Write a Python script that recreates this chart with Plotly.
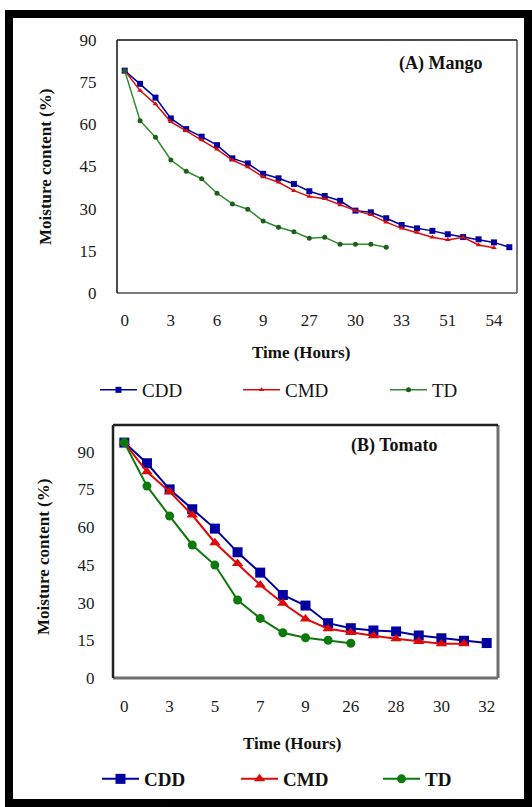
import plotly.graph_objects as go

W, H = 532, 807

# ---------------- data ----------------
mango_time = ["0", "1", "2", "3", "4", "5", "6", "7", "8", "9", "10", "11", "27",
              "28", "29", "30", "31", "32", "33", "34", "50", "51", "52", "53", "54", "55"]
mango_ticks = ["0", "3", "6", "9", "27", "30", "33", "51", "54"]
mango_cdd = [79.1, 74.4, 69.5, 62.1, 58.3, 55.6, 52.6, 47.9, 46.1, 42.4, 40.8, 38.8, 36.2,
             34.5, 32.8, 29.3, 28.7, 26.6, 24.2, 23.0, 22.1, 20.9, 19.9, 19.1, 18.0, 16.3]
mango_cmd = [79.1, 72.0, 67.2, 60.9, 57.7, 54.4, 51.1, 47.3, 44.8, 41.3, 39.4, 36.4, 34.3,
             33.5, 31.3, 29.3, 27.8, 25.2, 23.0, 21.5, 19.8, 18.9, 19.8, 17.1, 16.1]
mango_td = [79.1, 61.3, 55.4, 47.3, 43.3, 40.6, 35.5, 31.7, 29.8, 25.6, 23.4, 21.8,
            19.5, 19.8, 17.3, 17.3, 17.3, 16.3]

tomato_time = ["0", "2", "3", "4", "5", "6", "7", "8", "9", "25", "26", "27", "28",
               "29", "30", "31", "32"]
tomato_ticks = ["0", "3", "5", "7", "9", "26", "28", "30", "32"]
tomato_cdd = [93.6, 85.4, 75.0, 67.1, 59.4, 50.0, 41.9, 33.0, 28.8, 21.8, 19.8, 18.9,
              18.5, 16.9, 15.8, 14.8, 13.9]
tomato_cmd = [93.6, 82.0, 74.1, 64.8, 53.8, 45.5, 37.0, 29.7, 23.5, 19.6, 18.1, 16.8,
              15.6, 14.5, 13.6, 13.6]
tomato_td = [93.6, 76.3, 64.4, 52.9, 44.9, 31.0, 23.7, 18.0, 16.0, 15.0, 13.8]

y_ticks = [0, 15, 30, 45, 60, 75, 90]

# ---------------- styles ----------------
FONT = "Liberation Serif, Times New Roman, serif"
BLUE = "#0000a0"
RED = "#dd0a0a"
GREEN_A = "#2e8b2e"
GREEN_B = "#0b7a0b"


def px(x):
    return x / W


def py(y):
    return 1 - y / H


# plot areas in pixels (left, top, right, bottom)
A = (117, 40, 517, 293)
B = (113, 425, 498, 678)

fig = go.Figure()

# Panel A traces
fig.add_trace(go.Scatter(x=mango_time[:len(mango_cdd)], y=mango_cdd, name="CDD",
                         mode="lines+markers", xaxis="x", yaxis="y", legend="legend",
                         line=dict(color=BLUE, width=1.5),
                         marker=dict(symbol="square", size=6, color=BLUE)))
fig.add_trace(go.Scatter(x=mango_time[:len(mango_cmd)], y=mango_cmd, name="CMD",
                         mode="lines+markers", xaxis="x", yaxis="y", legend="legend2",
                         line=dict(color=RED, width=1.5),
                         marker=dict(symbol="triangle-up", size=5, color=RED)))
fig.add_trace(go.Scatter(x=mango_time[:len(mango_td)], y=mango_td, name="TD",
                         mode="lines+markers", xaxis="x", yaxis="y", legend="legend3",
                         line=dict(color=GREEN_A, width=1.5),
                         marker=dict(symbol="circle", size=5, color="#1d5e1d")))

# Panel B traces
fig.add_trace(go.Scatter(x=tomato_time[:len(tomato_cdd)], y=tomato_cdd, name="CDD",
                         mode="lines+markers", xaxis="x2", yaxis="y2", legend="legend4",
                         line=dict(color=BLUE, width=2),
                         marker=dict(symbol="square", size=10, color=BLUE)))
fig.add_trace(go.Scatter(x=tomato_time[:len(tomato_cmd)], y=tomato_cmd, name="CMD",
                         mode="lines+markers", xaxis="x2", yaxis="y2", legend="legend5",
                         line=dict(color=RED, width=2),
                         marker=dict(symbol="triangle-up", size=10, color=RED)))
fig.add_trace(go.Scatter(x=tomato_time[:len(tomato_td)], y=tomato_td, name="TD",
                         mode="lines+markers", xaxis="x2", yaxis="y2", legend="legend6",
                         line=dict(color=GREEN_B, width=2),
                         marker=dict(symbol="circle", size=9, color=GREEN_B)))

tickfont = dict(family=FONT, size=17, color="#1a1a1a")

common_x = dict(type="category", showgrid=False, zeroline=False, showline=False,
                ticks="outside", tickcolor="rgba(0,0,0,0)", automargin=False,
                tickfont=tickfont, fixedrange=True)
common_y = dict(showgrid=False, zeroline=False, showline=False, ticks="outside",
                tickcolor="rgba(0,0,0,0)", automargin=False, tickfont=tickfont,
                tickvals=y_ticks, fixedrange=True)


def leg(x, y, bold):
    return dict(orientation="h", x=px(x), y=py(y), xanchor="left", yanchor="middle",
                font=dict(family=FONT, size=19, color="#111",
                          weight="bold" if bold else "normal"),
                itemwidth=37, bgcolor="rgba(0,0,0,0)", borderwidth=0)


fig.update_layout(
    width=W, height=H,
    margin=dict(l=0, r=0, t=0, b=0),
    paper_bgcolor="white", plot_bgcolor="white",
    font=dict(family=FONT, color="#111"),
    xaxis=dict(common_x, domain=[px(A[0]), px(A[2])], anchor="y",
               categoryorder="array", categoryarray=mango_time,
               range=[-0.5, len(mango_time) - 0.5],
               tickvals=mango_ticks, ticklen=12),
    yaxis=dict(common_y, domain=[py(A[3]), py(A[1])], anchor="x",
               range=[0, 90], ticklen=16),
    xaxis2=dict(common_x, domain=[px(B[0]), px(B[2])], anchor="y2",
                categoryorder="array", categoryarray=tomato_time,
                range=[-0.5, len(tomato_time) - 0.5],
                tickvals=tomato_ticks, ticklen=13),
    yaxis2=dict(common_y, domain=[py(B[3]), py(B[1])], anchor="x2",
                range=[0, 100.6], ticklen=14),
    legend=leg(95, 390, False),
    legend2=leg(238, 390, False),
    legend3=leg(385, 390, False),
    legend4=leg(97, 779, True),
    legend5=leg(236, 779, True),
    legend6=leg(378, 779, True),
    showlegend=True,
)

shapes = []
# outer frame
shapes.append(dict(type="rect", xref="paper", yref="paper",
                   x0=px(9), x1=px(528), y0=py(803), y1=py(14),
                   line=dict(color="black", width=8), fillcolor="rgba(0,0,0,0)"))


def frame(box, dark, light, wd, wl):
    l, t, r, b = box
    return [
        dict(type="line", xref="paper", yref="paper", x0=px(l), x1=px(r), y0=py(b), y1=py(b),
             line=dict(color=light, width=wl)),
        dict(type="line", xref="paper", yref="paper", x0=px(r), x1=px(r), y0=py(b), y1=py(t),
             line=dict(color=light, width=wl)),
        dict(type="line", xref="paper", yref="paper", x0=px(l), x1=px(r), y0=py(t), y1=py(t),
             line=dict(color=dark, width=wd)),
        dict(type="line", xref="paper", yref="paper", x0=px(l), x1=px(l), y0=py(b), y1=py(t),
             line=dict(color=dark, width=wd)),
    ]


shapes += frame(A, "#111", "#7a7a7a", 1.5, 2)
shapes += frame(B, "#222", "#6e6e6e", 2.5, 3)
fig.update_layout(shapes=shapes)

ann = []


def label(text, x, y, size, angle=0, bold=True):
    ann.append(dict(text=text, x=px(x), y=py(y), xref="paper", yref="paper",
                    showarrow=False, textangle=angle, xanchor="center", yanchor="middle",
                    font=dict(family=FONT, size=size, color="#111",
                              weight="bold" if bold else "normal")))


label("(A) Mango", 441, 63, 18)
label("(B) Tomato", 394, 445, 18)
label("Moisture content (%)", 46, 167, 17, -90)
label("Moisture content (%)", 43, 557, 17, -90)
label("Time (Hours)", 301, 352, 17)
label("Time (Hours)", 292, 743, 17)
fig.update_layout(annotations=ann)

fig.write_html("out.html", config={"displayModeBar": False},
               post_script="document.body.style.margin='0';")
